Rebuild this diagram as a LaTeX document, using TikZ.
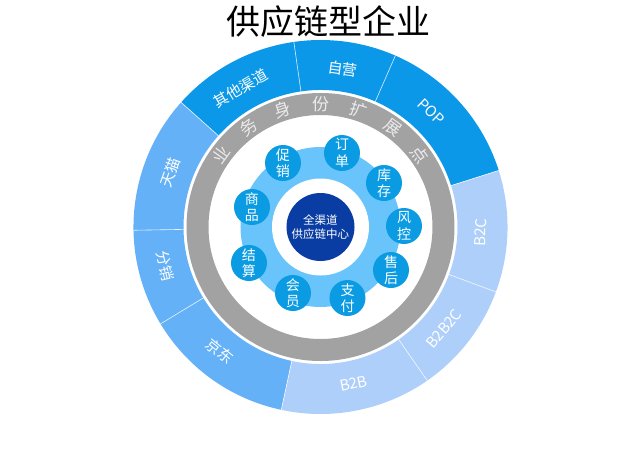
\documentclass[tikz,border=0pt]{standalone}
\usepackage{fontspec}
\setmainfont{Noto Sans CJK SC}

\definecolor{segdark}{HTML}{0B98E9}
\definecolor{segmid}{HTML}{64B1F8}
\definecolor{seglight}{HTML}{AECFFA}
\definecolor{ringgrey}{HTML}{A2A2A2}
\definecolor{diskblue}{HTML}{68C4FA}
\definecolor{dotblue}{HTML}{0A9BE2}
\definecolor{coreblue}{HTML}{0A3DA4}

\tikzset{
	seglabel/.style={text=white, inner sep=0pt, font=\fontsize{15}{18}\selectfont},
	ringchar/.style={text=white!92!black, inner sep=0pt, font=\fontsize{17}{20}\selectfont},
	divider/.style={white, line width=0.6pt, opacity=0.85},
	dot/.style={circle, fill=dotblue, minimum size=36pt, inner sep=0pt, text=white, align=center, font=\fontsize{14}{16.5}\selectfont},
}

\begin{document}
\begin{tikzpicture}[x=1pt, y=1pt]
			\useasboundingbox (-320.5,-221) rectangle (319.5,227);
			
			% outer ring
			\fill[segdark] (17.6:137) arc[start angle=17.6, end angle=138.2, radius=137] -- (138.2:187) arc[start angle=138.2, end angle=17.6, radius=187] -- cycle;
			\fill[segmid] (138.2:137) arc[start angle=138.2, end angle=257.9, radius=137] -- (257.9:187) arc[start angle=257.9, end angle=138.2, radius=187] -- cycle;
			\fill[seglight] (257.9:137) arc[start angle=257.9, end angle=377.6, radius=137] -- (377.6:187) arc[start angle=377.6, end angle=257.9, radius=187] -- cycle;
			
			\draw[divider] (17.6:137) -- (17.6:187);
			\draw[divider] (66.4:137) -- (66.4:187);
			\draw[divider] (98.2:137) -- (98.2:187);
			\draw[divider] (138.2:137) -- (138.2:187);
			\draw[divider] (181:137) -- (181:187);
			\draw[divider] (211.2:137) -- (211.2:187);
			\draw[divider] (257.9:137) -- (257.9:187);
			\draw[divider] (304.8:137) -- (304.8:187);
			\draw[divider] (339.7:137) -- (339.7:187);
			
			\node[seglabel, rotate=-44] (pop) at (46:160) {POP};
			\node[seglabel, rotate=-8] (ziying) at (82:160) {自营};
			\node[seglabel, rotate=30] (qita) at (120:160) {其他渠道};
			\node[seglabel, rotate=70] (tianmao) at (160:160) {天猫};
			\node[seglabel, rotate=-76] (fenxiao) at (194:160) {分销};
			\node[seglabel, rotate=-39] (jingdong) at (231:160) {京东};
			\node[seglabel, rotate=12] (btob) at (282:160) {B2B};
			\node[seglabel, rotate=50] (btobtoc) at (320.5:160) {B2B2C};
			\node[seglabel, rotate=88] (btoc) at (358:160) {B2C};
			
			% grey ring
			\draw[ringgrey, line width=22pt] (0,0) circle (123);
			
			\node[ringchar, rotate=54] (r1) at (144:123) {业};
			\node[ringchar, rotate=36] (r2) at (126:123) {务};
			\node[ringchar, rotate=18] (r3) at (108:123) {身};
			\node[ringchar] (r4) at (90:123) {份};
			\node[ringchar, rotate=-18] (r5) at (72:123) {扩};
			\node[ringchar, rotate=-36] (r6) at (54:123) {展};
			\node[ringchar, rotate=-54] (r7) at (36:123) {点};
			
			% inner disks
			\fill[diskblue] (0,0) circle (80);
			\fill[white] (0,0) circle (48.5);
			\node[circle, fill=coreblue, minimum size=68pt, inner sep=0pt, text=white, align=center, font=\fontsize{11.5}{14}\selectfont] (core) at (0,0) {全渠道\\供应链中心};
			
			\node[dot] (cuxiao) at (-37.5,64) {促\\销};
			\node[dot] (dingdan) at (21.5,74) {订\\单};
			\node[dot] (kucun) at (63.5,44) {库\\存};
			\node[dot] (fengkong) at (83.5,1) {风\\控};
			\node[dot] (shouhou) at (70.5,-43) {售\\后};
			\node[dot] (zhifu) at (27,-71) {支\\付};
			\node[dot] (huiyuan) at (-27.5,-66) {会\\员};
			\node[dot] (jiesuan) at (-71.5,-36) {结\\算};
			\node[dot] (shangpin) at (-68.5,20) {商\\品};
			
			% title
			\node[font=\fontsize{34}{40}\selectfont] (title) at (8,205) {供应链型企业};
		\end{tikzpicture}
\end{document}
